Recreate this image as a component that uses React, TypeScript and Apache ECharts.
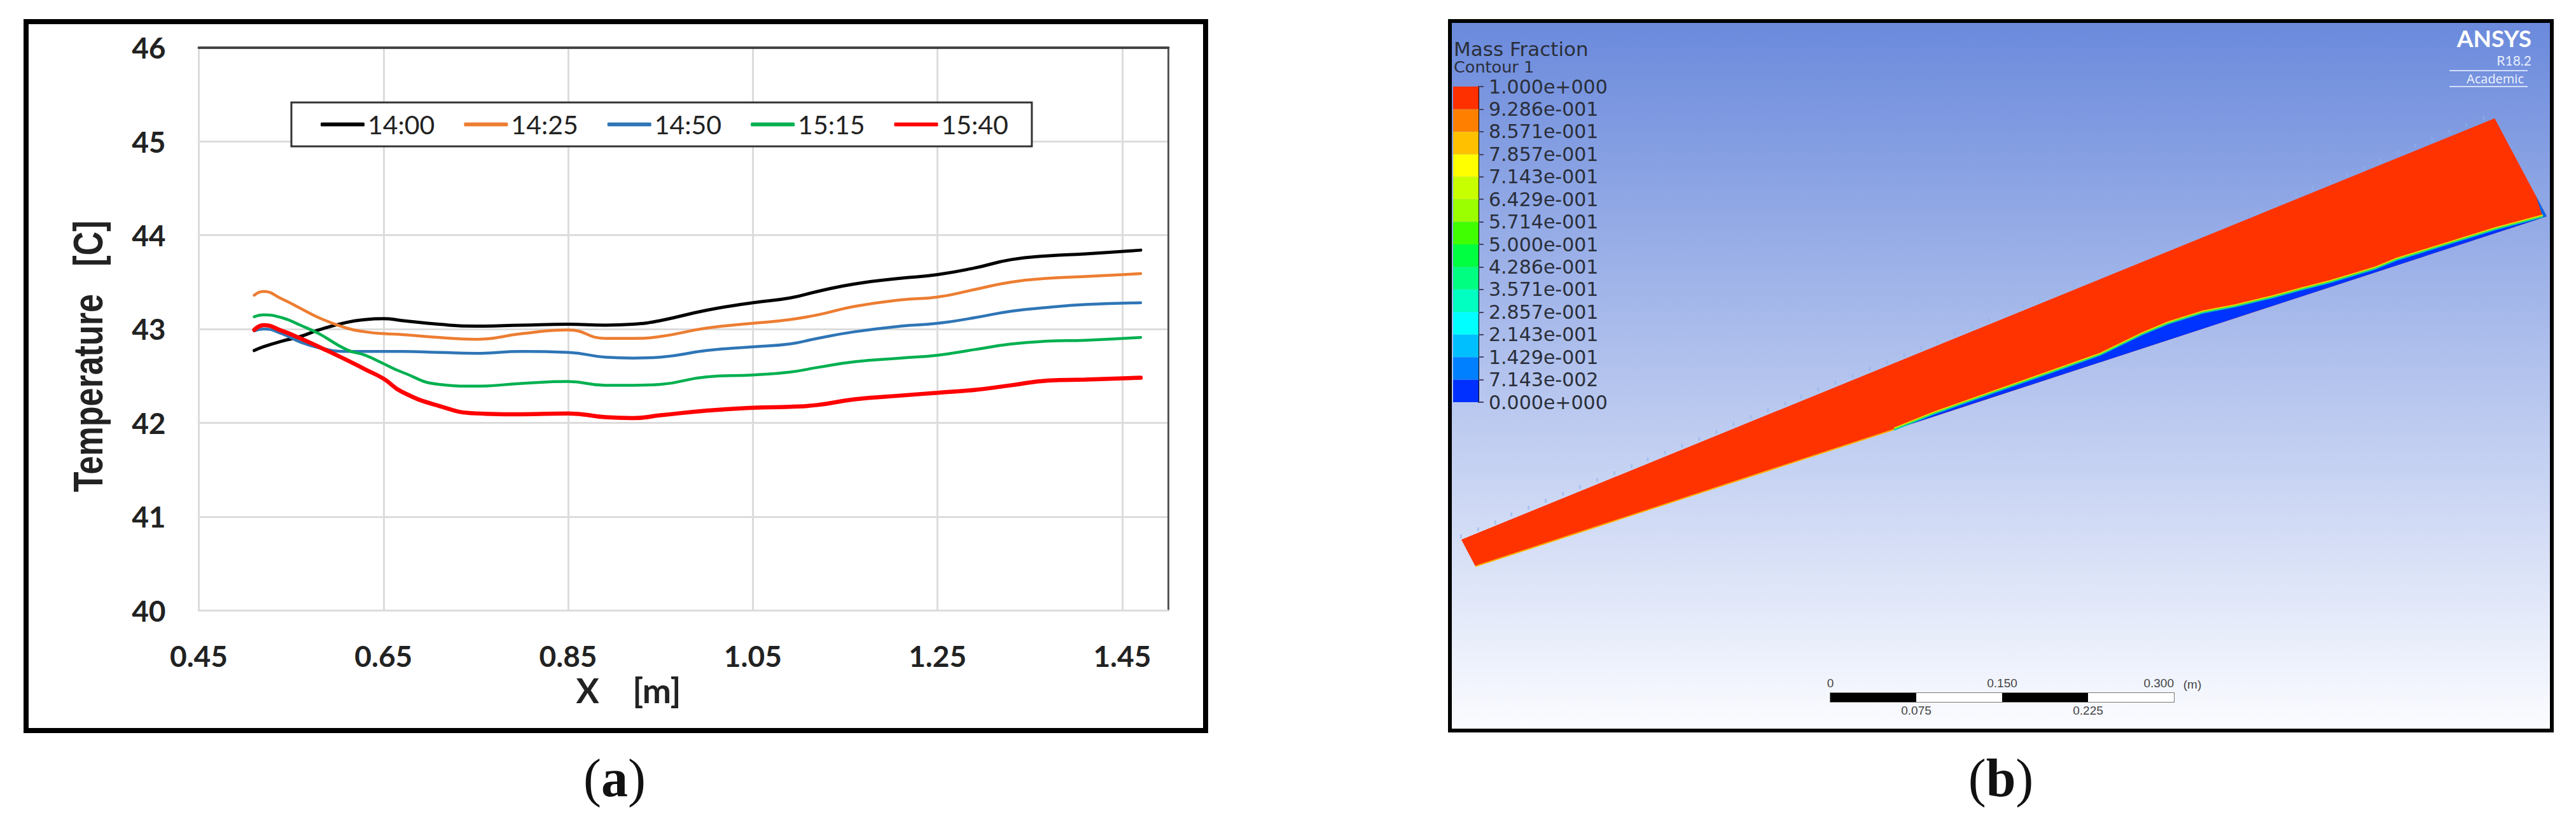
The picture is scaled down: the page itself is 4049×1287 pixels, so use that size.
import React, { useEffect, useRef } from "react";
import * as echarts from "echarts";

// panel (a): temperature along the plate
const seriesNames = ["14:00", "14:25", "14:50", "15:15", "15:40"];
const seriesColors = ["#000000", "#ED7D31", "#2E75B6", "#00B050", "#FF0000"];
const seriesWidths = [5, 4.5, 4.5, 4.5, 6.5];
const xPositions = [0.51, 0.52, 0.54, 0.56, 0.58, 0.61, 0.63, 0.65, 0.67, 0.71, 0.75, 0.8, 0.85, 0.89, 0.92, 0.95, 1.0, 1.05, 1.09, 1.12, 1.16, 1.21, 1.25, 1.29, 1.33, 1.37, 1.41, 1.47];
const t1400 = [42.77, 42.81, 42.87, 42.92, 42.99, 43.07, 43.1, 43.11, 43.09, 43.05, 43.03, 43.04, 43.05, 43.04, 43.05, 43.09, 43.2, 43.28, 43.33, 43.4, 43.48, 43.54, 43.58, 43.65, 43.74, 43.78, 43.8, 43.84];
const t1425 = [43.36, 43.4, 43.32, 43.22, 43.12, 43.01, 42.97, 42.95, 42.94, 42.91, 42.89, 42.95, 42.99, 42.9, 42.9, 42.92, 43.01, 43.06, 43.1, 43.15, 43.24, 43.31, 43.34, 43.42, 43.5, 43.54, 43.56, 43.59];
const t1450 = [42.98, 43.0, 42.95, 42.86, 42.8, 42.76, 42.76, 42.76, 42.76, 42.75, 42.74, 42.76, 42.75, 42.7, 42.69, 42.7, 42.77, 42.81, 42.84, 42.9, 42.97, 43.03, 43.06, 43.12, 43.19, 43.23, 43.26, 43.28];
const t1515 = [43.13, 43.15, 43.12, 43.04, 42.95, 42.78, 42.72, 42.63, 42.54, 42.41, 42.39, 42.42, 42.44, 42.4, 42.4, 42.41, 42.49, 42.51, 42.54, 42.59, 42.65, 42.69, 42.72, 42.78, 42.84, 42.87, 42.88, 42.91];
const t1540 = [42.99, 43.04, 42.98, 42.9, 42.81, 42.67, 42.57, 42.47, 42.33, 42.18, 42.1, 42.09, 42.1, 42.06, 42.05, 42.08, 42.13, 42.16, 42.17, 42.19, 42.25, 42.29, 42.32, 42.35, 42.4, 42.45, 42.46, 42.48];
const temperatures = [t1400, t1425, t1450, t1515, t1540];
const xTicks = [0.45, 0.65, 0.85, 1.05, 1.25, 1.45];

// panel (b): contour legend, bottom band first
const bandColors = ["#0030ff", "#0080ff", "#00bfff", "#00ffff", "#00ffc0", "#00ff80", "#00ff40", "#40ff00", "#9bff00", "#c8ff00", "#ffff00", "#ffc000", "#ff8000", "#ff3000"];
const bandLabels = ["0.000e+000", "7.143e-002", "1.429e-001", "2.143e-001", "2.857e-001", "3.571e-001", "4.286e-001", "5.000e-001", "5.714e-001", "6.429e-001", "7.143e-001", "7.857e-001", "8.571e-001", "9.286e-001", "1.000e+000"];

// channel outline and water film, in metres
const channel = [[0.0083, 0.165], [0.0206, 0.1417], [0.9528, 0.4461], [0.9561, 0.4472], [0.9106, 0.5328]];
const wallStart = [0.0206, 0.1417];
const filmStart = [0.3861, 0.2611];
const wallEnd = [0.9528, 0.4461];
const endFilm = [[0.9467, 0.465], [0.9561, 0.4472], [0.9528, 0.4461]];
const filmSurface = [[0.3861, 0.2611], [0.4206, 0.275], [0.4611, 0.2894], [0.5261, 0.3122], [0.5667, 0.3267], [0.6028, 0.3444], [0.6256, 0.3539], [0.6556, 0.3633], [0.6844, 0.3689], [0.7167, 0.3767], [0.7411, 0.3833], [0.7672, 0.39], [0.8061, 0.4017], [0.825, 0.4094], [0.9111, 0.4361], [0.9528, 0.4472]];
const edgeMarkX = [0.008, 0.023, 0.038, 0.052, 0.067, 0.082, 0.097, 0.112, 0.127, 0.142, 0.157, 0.171, 0.186, 0.201, 0.216, 0.231, 0.246, 0.261, 0.276, 0.291, 0.305, 0.32, 0.335, 0.35, 0.365, 0.38, 0.395, 0.41, 0.424, 0.439, 0.454, 0.469, 0.484, 0.499, 0.514, 0.529, 0.543, 0.558, 0.573, 0.588, 0.603, 0.618, 0.633, 0.648, 0.663, 0.677, 0.692, 0.707, 0.722, 0.737, 0.752, 0.767, 0.782, 0.796, 0.811, 0.826, 0.841, 0.856, 0.871, 0.886, 0.901];
const edgeMarkY = [0.168, 0.174, 0.18, 0.187, 0.193, 0.199, 0.205, 0.211, 0.217, 0.223, 0.229, 0.235, 0.241, 0.247, 0.253, 0.259, 0.266, 0.272, 0.278, 0.284, 0.29, 0.296, 0.302, 0.308, 0.314, 0.32, 0.326, 0.332, 0.338, 0.345, 0.351, 0.357, 0.363, 0.369, 0.375, 0.381, 0.387, 0.393, 0.399, 0.405, 0.411, 0.417, 0.424, 0.43, 0.436, 0.442, 0.448, 0.454, 0.46, 0.466, 0.472, 0.478, 0.484, 0.49, 0.496, 0.503, 0.509, 0.515, 0.521, 0.527, 0.533];

// scale bar
const scaleSegments = [0.075, 0.075, 0.075, 0.075];
const scaleColors = ["#000000", "#ffffff", "#000000", "#ffffff"];
const scaleTopLabels = [0, 0.15, 0.3];
const scaleBottomLabels = [0.075, 0.225];

const LATO = "Lato";
const ARIALISH = "DejaVu Sans";
const SERIF = "Liberation Serif";

const hiddenAxis = (gridIndex: number, max: number) => ({
  type: "value",
  gridIndex,
  min: 0,
  max,
  show: false,
});

const buildOption = (): any => ({
  animation: false,
  backgroundColor: "#ffffff",
  legend: {
    left: 458,
    top: 161,
    padding: [14, 37, 14, 46],
    backgroundColor: "#ffffff",
    borderColor: "#333333",
    borderWidth: 3,
    icon: "roundRect",
    itemWidth: 69,
    itemHeight: 6,
    itemGap: 46,
    selectedMode: false,
    data: seriesNames,
    textStyle: { fontFamily: LATO, fontSize: 41, lineHeight: 41, color: "#222222" },
  },
  grid: [
    { left: 312.5, top: 74.7, width: 1524, height: 884.5 },
    {
      left: 2282,
      top: 36,
      width: 1727,
      height: 1109,
      show: true,
      borderWidth: 0,
      backgroundColor: {
        type: "linear",
        x: 0,
        y: 0,
        x2: 0,
        y2: 1,
        colorStops: [
          { offset: 0, color: "#6b8adc" },
          { offset: 1, color: "#fbfcff" },
        ],
      },
    },
    { left: 2284, top: 136, width: 40, height: 496 },
    { left: 2877, top: 1089, width: 540, height: 14, show: true, borderColor: "#777777", borderWidth: 2, backgroundColor: "#ffffff" },
  ],
  xAxis: [
    {
      type: "value",
      gridIndex: 0,
      min: 0.45,
      max: 1.5,
      axisLine: { lineStyle: { color: "#dcdcdc", width: 3 } },
      axisTick: { show: false, customValues: xTicks },
      axisLabel: {
        customValues: xTicks,
        margin: 48,
        fontFamily: LATO,
        fontWeight: "bold",
        fontSize: 46,
        color: "#222222",
        formatter: (v: number) => v.toFixed(2),
      },
      splitLine: { show: true, lineStyle: { color: "#dcdcdc", width: 3 } },
    },
    {
      type: "value",
      gridIndex: 0,
      position: "top",
      min: 0.45,
      max: 1.5,
      axisLine: { show: true, lineStyle: { color: "#444444", width: 4 } },
      axisTick: { show: false },
      axisLabel: { show: false },
      splitLine: { show: false },
    },
    hiddenAxis(1, 0.9594),
    { type: "category", gridIndex: 2, data: [""], show: false },
    {
      type: "value",
      gridIndex: 3,
      min: 0,
      max: 0.3,
      axisLine: { show: false },
      axisTick: { show: false },
      splitLine: { show: false },
      axisLabel: {
        customValues: scaleBottomLabels,
        margin: 4,
        fontFamily: "Liberation Sans",
        fontSize: 19,
        color: "#444444",
        formatter: (v: number) => v.toFixed(3),
      },
    },
    {
      type: "value",
      gridIndex: 3,
      position: "top",
      min: 0,
      max: 0.3,
      axisLine: { show: false },
      axisTick: { show: false },
      splitLine: { show: false },
      axisLabel: {
        customValues: scaleTopLabels,
        margin: 6,
        alignMaxLabel: "right",
        fontFamily: "Liberation Sans",
        fontSize: 19,
        color: "#444444",
        formatter: (v: number) => (v === 0 ? "0" : v.toFixed(3)),
      },
    },
  ],
  yAxis: [
    {
      type: "value",
      gridIndex: 0,
      min: 40,
      max: 46,
      interval: 1,
      axisLine: { show: true, lineStyle: { color: "#dcdcdc", width: 3 } },
      axisTick: { show: false },
      axisLabel: { margin: 52, fontFamily: LATO, fontWeight: "bold", fontSize: 46, color: "#222222" },
      splitLine: { show: true, lineStyle: { color: "#dcdcdc", width: 3 } },
    },
    {
      type: "value",
      gridIndex: 0,
      position: "right",
      min: 40,
      max: 46,
      interval: 1,
      axisLine: { show: true, lineStyle: { color: "#555555", width: 3 } },
      axisTick: { show: false },
      axisLabel: { show: false },
      splitLine: { show: false },
    },
    hiddenAxis(1, 0.6161),
    {
      type: "value",
      gridIndex: 2,
      position: "right",
      min: 0,
      max: 14,
      interval: 1,
      axisLine: { show: true, lineStyle: { color: "#000000", width: 2 } },
      axisTick: { show: true, length: 8, lineStyle: { color: "#444466", width: 2 } },
      axisLabel: {
        margin: 16,
        fontFamily: ARIALISH,
        fontSize: 30,
        color: "#2a2f3a",
        formatter: (v: number) => bandLabels[v],
      },
      splitLine: { show: false },
    },
    { type: "category", gridIndex: 3, data: [""], show: false },
  ],
  series: [
    ...seriesNames.map((name, i) => ({
      type: "line",
      name,
      xAxisIndex: 0,
      yAxisIndex: 0,
      z: 3 + i,
      smooth: 0.5,
      symbol: "none",
      lineStyle: { color: seriesColors[i], width: seriesWidths[i], cap: "round" },
      itemStyle: { color: seriesColors[i] },
      data: xPositions.map((x, k) => [x, temperatures[i][k]]),
    })),
    {
      type: "custom",
      xAxisIndex: 2,
      yAxisIndex: 2,
      silent: true,
      clip: false,
      data: [[0, 0]],
      renderItem: (_: any, api: any) => {
        const pts = (list: number[][]) => list.map((p) => api.coord(p));
        const surface = pts(filmSurface);
        const line = (points: number[][], stroke: string, lineWidth: number, y = 0) => ({
          type: "polyline",
          y,
          shape: { points },
          style: { fill: "none", stroke, lineWidth },
        });
        return {
          type: "group",
          children: [
            { type: "polygon", shape: { points: pts(channel) }, style: { fill: "#ff3300" } },
            { type: "polygon", shape: { points: pts([...filmSurface, wallEnd, filmStart]) }, style: { fill: "#0033ff" } },
            { type: "polygon", shape: { points: pts(endFilm) }, style: { fill: "#0066ee" } },
            line(pts([wallStart, filmStart]), "#ffb000", 2),
            line(surface, "#ffd800", 2, -2),
            line(surface, "#60e830", 2, -0.5),
            line(surface, "#00c8c0", 1.5, 1),
          ],
        };
      },
    },
    {
      type: "scatter",
      xAxisIndex: 2,
      yAxisIndex: 2,
      silent: true,
      symbol: "rect",
      symbolSize: [3, 6],
      itemStyle: { color: "#8fb2ee", opacity: 0.6 },
      data: edgeMarkX.map((x, i) => [x, edgeMarkY[i]]),
    },
    ...bandColors.map((color) => ({
      type: "bar",
      xAxisIndex: 3,
      yAxisIndex: 3,
      stack: "bands",
      barWidth: "100%",
      silent: true,
      itemStyle: { color },
      data: [1],
    })),
    ...scaleSegments.map((value, i) => ({
      type: "bar",
      xAxisIndex: 4,
      yAxisIndex: 4,
      stack: "scale",
      barWidth: "100%",
      silent: true,
      itemStyle: { color: scaleColors[i] },
      data: [value],
    })),
  ],
  graphic: [
    { type: "rect", shape: { x: 41, y: 34, width: 1854, height: 1114 }, style: { fill: "none", stroke: "#000000", lineWidth: 8 } },
    { type: "rect", shape: { x: 2279, y: 33, width: 1732, height: 1115 }, style: { fill: "none", stroke: "#000000", lineWidth: 6 } },
    {
      type: "text",
      x: 138,
      y: 560,
      rotation: Math.PI / 2,
      scaleY: 1.25,
      style: { text: "Temperature   [C]", align: "center", verticalAlign: "middle", fontFamily: "Liberation Sans", fontWeight: "bold", fontSize: 52, fill: "#222222" },
    },
    {
      type: "text",
      x: 988,
      y: 1084,
      style: { text: "X    [m]", align: "center", verticalAlign: "middle", fontFamily: LATO, fontWeight: "bold", fontSize: 54, fill: "#222222" },
    },
    { type: "text", x: 2285, y: 77, style: { text: "Mass Fraction", verticalAlign: "middle", fontFamily: ARIALISH, fontSize: 31, fill: "#2a2f3a" } },
    { type: "text", x: 2285, y: 105, style: { text: "Contour 1", verticalAlign: "middle", fontFamily: ARIALISH, fontSize: 25.5, fill: "#2a2f3a" } },
    { type: "text", x: 3979, y: 59.5, style: { text: "ANSYS", align: "right", verticalAlign: "middle", fontFamily: LATO, fontWeight: "bold", fontSize: 37, fill: "#ffffff" } },
    { type: "text", x: 3979, y: 94.5, style: { text: "R18.2", align: "right", verticalAlign: "middle", fontFamily: LATO, fontSize: 21, fill: "#e8eefc" } },
    { type: "text", x: 3967, y: 123, style: { text: "Academic", align: "right", verticalAlign: "middle", fontFamily: "Open Sans", fontSize: 20, fill: "#f0f4ff" } },
    { type: "line", shape: { x1: 3850, y1: 111, x2: 3973, y2: 111 }, style: { stroke: "#d4def8", lineWidth: 2 } },
    { type: "line", shape: { x1: 3850, y1: 136, x2: 3973, y2: 136 }, style: { stroke: "#d4def8", lineWidth: 2 } },
    { type: "text", x: 3446, y: 1075, style: { text: "(m)", align: "center", verticalAlign: "middle", fontFamily: "Liberation Sans", fontSize: 19, fill: "#444444" } },
    {
      type: "text",
      x: 966,
      y: 1222,
      style: {
        text: "{n|(}{b|a}{n|)}",
        align: "center",
        verticalAlign: "middle",
        rich: {
          n: { fontFamily: SERIF, fontSize: 84, fill: "#111111" },
          b: { fontFamily: SERIF, fontSize: 84, fontWeight: "bold", fill: "#111111" },
        },
      },
    },
    {
      type: "text",
      x: 3145,
      y: 1222,
      style: {
        text: "{n|(}{b|b}{n|)}",
        align: "center",
        verticalAlign: "middle",
        rich: {
          n: { fontFamily: SERIF, fontSize: 84, fill: "#111111" },
          b: { fontFamily: SERIF, fontSize: 84, fontWeight: "bold", fill: "#111111" },
        },
      },
    },
  ],
});

const App = () => {
  const chartRef = useRef<HTMLDivElement>(null);

  useEffect(() => {
    const chartDom = chartRef.current;
    if (chartDom) {
      const myChart = echarts.init(chartDom, null, { renderer: "svg" });
      myChart.setOption(buildOption());
      return () => {
        myChart.dispose();
      };
    }
  }, []);

  return <div ref={chartRef} style={{ position: "fixed", left: 0, top: 0, width: 4049, height: 1287 }}></div>;
};

export default App;
